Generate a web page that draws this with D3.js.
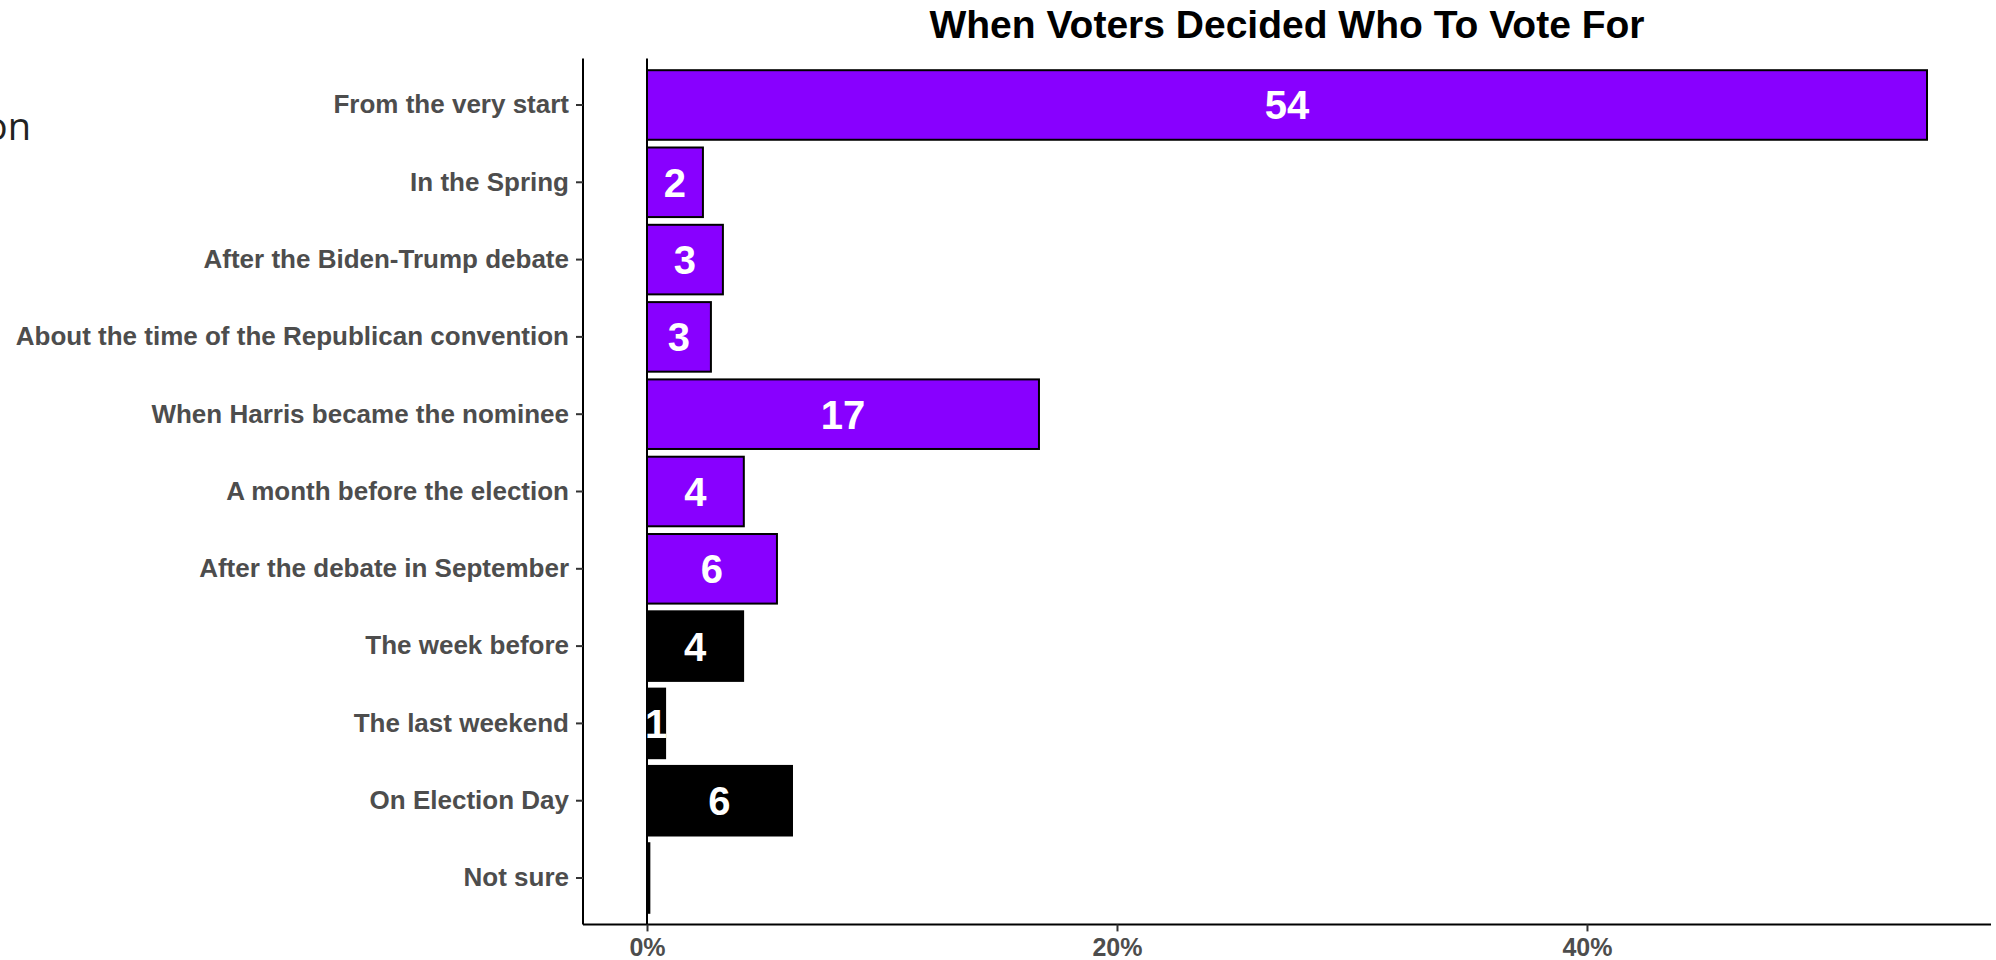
<!DOCTYPE html>
<html><head><meta charset="utf-8">
<script src="https://cdn.jsdelivr.net/npm/d3@7"></script>
<style>body{margin:0;background:#fff;}svg{display:block;}</style>
</head><body>
<svg id="c" width="1996" height="960"></svg>
<script>
const categories = ["From the very start","In the Spring","After the Biden-Trump debate","About the time of the Republican convention","When Harris became the nominee","A month before the election","After the debate in September","The week before","The last weekend","On Election Day","Not sure"];
const values = [54.47, 2.38, 3.23, 2.72, 16.68, 4.12, 5.53, 4.09, 0.77, 6.17, 0.1];
const groups = ["before","before","before","before","before","before","before","late","late","late","late"];
const xTicks = [0, 20, 40];
const title = "When Voters Decided Who To Vote For";

(function(){
const svg = d3.select("#c");
const pLeft = 583, pRight = 1991, pTop = 58.6, pBottom = 924.4;
const maxV = d3.max(values);
const x = d3.scaleLinear().domain([-0.05*maxV, maxV*1.05]).range([pLeft, pRight]);
const y = d3.scaleBand().domain(categories).range([pTop, pBottom]).paddingInner(0.1).paddingOuter(0.15);
const color = d3.scaleOrdinal().domain(["before","late"]).range(["#8800ff","#000000"]);

// stray text at top-left
svg.append("text").attr("x", 31).attr("y", 140).attr("text-anchor","end")
  .style("font-family","'Open Sans'").style("font-size","38px").attr("fill","#222").text("on");

// title
svg.append("text").attr("x",(pLeft+pRight)/2).attr("y",38).attr("text-anchor","middle")
  .style("font-family","'Liberation Sans', Arial").style("font-weight","bold").style("font-size","39px")
  .attr("fill","#000").text(title);

const data = categories.map((c,i)=>({c, v: values[i], g: groups[i]}));

// bars
svg.append("g").selectAll("rect").data(data).join("rect")
  .attr("x", x(0)).attr("y", d=>y(d.c)).attr("width", d=>x(d.v)-x(0)).attr("height", y.bandwidth())
  .attr("fill", d=>color(d.g)).attr("stroke","#000").attr("stroke-width",2);

// zero line
svg.append("line").attr("x1",x(0)).attr("x2",x(0)).attr("y1",pTop).attr("y2",pBottom)
  .attr("stroke","#000").attr("stroke-width",2);

// bar labels
svg.append("g").selectAll("text").data(data.filter(d=>d.v>=0.5)).join("text")
  .attr("x", d=>x(d.v/2)).attr("y", d=>y(d.c)+y.bandwidth()/2).attr("dy","0.36em")
  .attr("text-anchor","middle").attr("fill","#fff")
  .style("font-family","'Liberation Sans', Arial").style("font-weight","bold").style("font-size","40px")
  .text(d=>Math.round(d.v));

// axes
const yAxis = d3.axisLeft(y).tickSize(7).tickPadding(7);
const gy = svg.append("g").attr("transform",`translate(${pLeft},0)`).call(yAxis);
gy.select(".domain").attr("d",`M0,${pTop}V${pBottom}`).attr("stroke","#000").attr("stroke-width",2);
gy.selectAll(".tick line").attr("stroke","#333").attr("stroke-width",2);
gy.selectAll(".tick text").attr("fill","#4d4d4d")
  .style("font-family","'Liberation Sans', Arial").style("font-weight","bold").style("font-size","26px");

const xAxis = d3.axisBottom(x).tickValues(xTicks).tickFormat(d=>d+"%").tickSize(7).tickPadding(7);
const gx = svg.append("g").attr("transform",`translate(0,${pBottom})`).call(xAxis);
gx.select(".domain").attr("d",`M${pLeft},0H${pRight}`).attr("stroke","#000").attr("stroke-width",2);
gx.selectAll(".tick line").attr("stroke","#333").attr("stroke-width",2);
gx.selectAll(".tick text").attr("fill","#4d4d4d")
  .style("font-family","'Liberation Sans', Arial").style("font-weight","bold").style("font-size","25px");
})();
</script>
</body></html>
